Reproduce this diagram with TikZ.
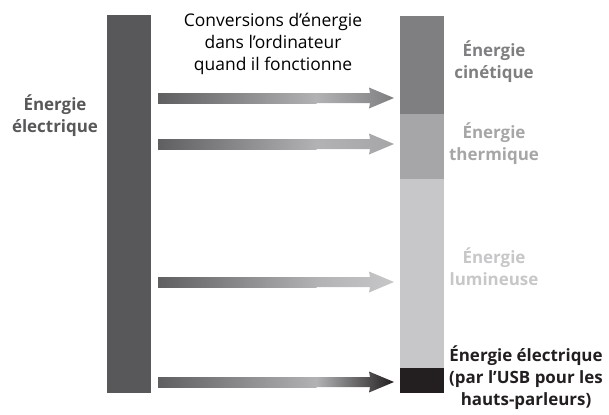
\documentclass[tikz,border=0pt]{standalone}
\usepackage{fontspec}
\setmainfont{Open Sans}
\usetikzlibrary{calc}

\definecolor{srcgray}{HTML}{58585B}
\definecolor{arrowgray}{HTML}{5F5F62}
\definecolor{midgray}{HTML}{B2B2B4}
\definecolor{kingray}{HTML}{7F7F82}
\definecolor{thermgray}{HTML}{A6A6A8}
\definecolor{lumgray}{HTML}{C7C7C9}
\definecolor{usbblack}{HTML}{231F20}

% fat arrow from tail to tip: dark -> light along the shaft, then -> end colour
\newcommand{\fatarrow}[3]{%
  \coordinate (mid) at ($(#1)!0.67!(#2)$);
  \shade[left color=arrowgray, right color=midgray]
    ($(#1)+(0,-5)$) rectangle ($(mid)+(0.5,5)$);
  \shade[left color=midgray, right color=#3]
    ($(mid)+(0,-5)$) -- ($(#2)+(-24,-5)$) -- ($(#2)+(-25,-10.5)$) -- (#2)
    -- ($(#2)+(-25,10.5)$) -- ($(#2)+(-24,5)$) -- ($(mid)+(0,5)$) -- cycle;}

\begin{document}
\begin{tikzpicture}[x=1bp,y=-1bp]
\tikzstyle{every node}+=[inner sep=0pt, font=\fontsize{17}{22}\selectfont]
\useasboundingbox (0,0) rectangle (609,414);
% electrical energy in
\fill [srcgray] (107,15) rectangle (151,393);
\node [font=\fontsize{17}{22}\selectfont\bfseries, text=srcgray, align=center] (srclbl) at (55,116) {Énergie\\électrique};
\node [align=center, font=\fontsize{17.5}{22}\selectfont] (title) at (273,44) {Conversions d’énergie\\dans l’ordinateur\\quand il fonctionne};
% energy out, stacked
\fill [kingray] (400,16) rectangle (444,114);
\fill [thermgray] (400,114) rectangle (444,179);
\fill [lumgray] (400,179) rectangle (444,368);
\fill [usbblack] (400,368) rectangle (444,393);
\tikzstyle{outlbl}=[font=\fontsize{17}{22}\selectfont\bfseries, align=center]
\node [outlbl, text=kingray] (kinlbl) at (494,62) {Énergie\\cinétique};
\node [outlbl, text=thermgray] (thermlbl) at (494,144) {Énergie\\thermique};
\node [outlbl, text=lumgray] (lumlbl) at (494,267) {Énergie\\lumineuse};
\node [outlbl, text=usbblack] (usblbl) at (526,378) {Énergie électrique\\(par l’USB pour les\\hauts-parleurs)};
% arrow ends
\coordinate (t1) at (158,98);
\coordinate (h1) at (394,98);
\coordinate (t2) at (158,144);
\coordinate (h2) at (394,144);
\coordinate (t3) at (158,282);
\coordinate (h3) at (394,282);
\coordinate (t4) at (158,382);
\coordinate (h4) at (394,382);
\fatarrow{t1}{h1}{kingray}
\fatarrow{t2}{h2}{thermgray}
\fatarrow{t3}{h3}{lumgray}
\fatarrow{t4}{h4}{usbblack}
\end{tikzpicture}
\end{document}
